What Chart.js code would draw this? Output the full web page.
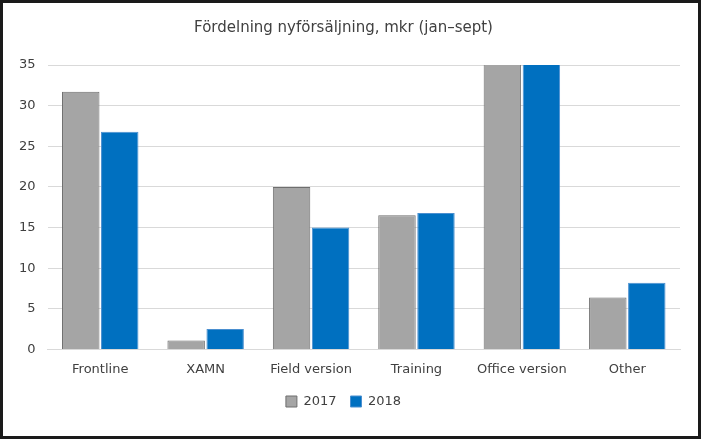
<!DOCTYPE html>
<html>
<head>
<meta charset="utf-8">
<script src="https://cdn.jsdelivr.net/npm/chart.js@4"></script>
<style>
  html, body { margin: 0; padding: 0; background: #fff; }
  #wrap { width: 695px; height: 433px; border: 3px solid #1a1a1a; box-sizing: content-box; }
</style>
</head>
<body>
<div id="wrap"><canvas id="myChart" width="695" height="433"></canvas></div>
<script>
const categories = ["Frontline", "XAMN", "Field version", "Training", "Office version", "Other"];
const values2017 = [31.7, 1.1, 20.0, 16.5, 45, 6.4];
const values2018 = [26.8, 2.5, 15.0, 16.8, 44, 8.2];
const yTicks = [0, 5, 10, 15, 20, 25, 30, 35];

const ctx = document.getElementById("myChart").getContext("2d");
const font = { family: "'DejaVu Sans', sans-serif", size: 13 };

const myChart = new Chart(ctx, {
  type: "bar",
  data: {
    labels: categories,
    datasets: [
      {
        label: "2017",
        data: values2017,
        backgroundColor: "#a5a5a5",
        borderColor: "#6e6e6e",
        borderWidth: 1,
      },
      {
        label: "2018",
        data: values2018,
        backgroundColor: "#0070c0",
        borderColor: "#4a8fd0",
        borderWidth: 1,
      },
    ],
  },
  options: {
    responsive: false,
    animation: false,
    layout: { padding: { left: 4, right: 18, top: 4, bottom: 18 } },
    datasets: { bar: { categoryPercentage: 0.74, barPercentage: 0.96 } },
    plugins: {
      title: {
        display: true,
        text: "Fördelning nyförsäljning, mkr (jan–sept)",
        color: "#404040",
        font: { family: font.family, size: 15, weight: "normal" },
        padding: { top: 12, bottom: 28 },
      },
      legend: {
        position: "bottom",
        labels: { color: "#404040", font: font, boxWidth: 11, boxHeight: 11, padding: 14 },
      },
      tooltip: { enabled: false },
    },
    scales: {
      x: {
        grid: { display: false },
        border: { color: "#d9d9d9" },
        ticks: { color: "#404040", font: font, padding: 4 },
      },
      y: {
        min: 0,
        max: 35,
        afterBuildTicks: (axis) => { axis.ticks = yTicks.map((v) => ({ value: v })); },
        grid: { color: "#d9d9d9", drawTicks: false },
        border: { display: false },
        ticks: { color: "#404040", font: font, padding: 12 },
      },
    },
  },
});
</script>
</body>
</html>
